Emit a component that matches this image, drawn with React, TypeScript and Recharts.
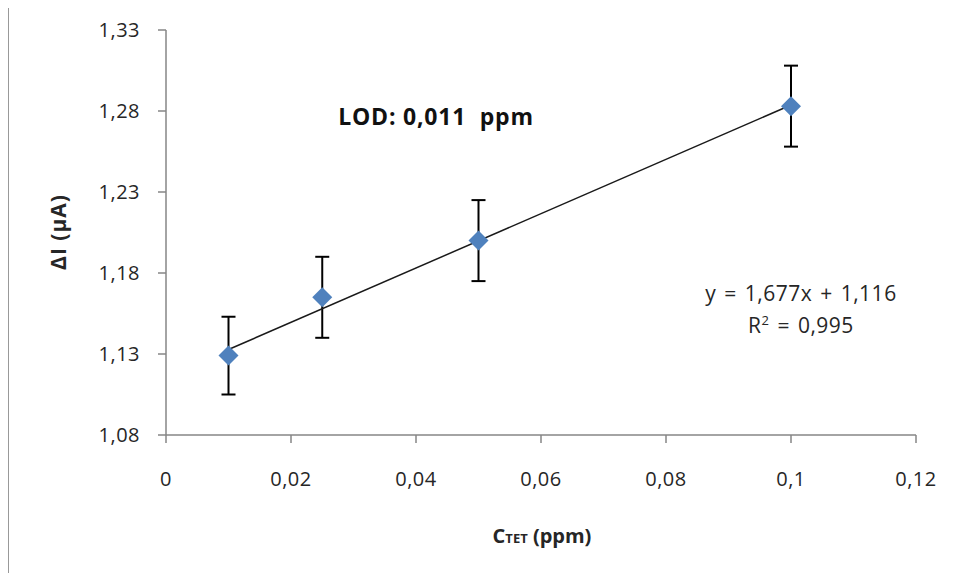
import React from 'react'
import { ComposedChart, Scatter, Line, XAxis, YAxis, ErrorBar } from 'recharts'

// measured points (C_TET in ppm, ΔI in µA) with their standard deviations
const concentrations = [0.01, 0.025, 0.05, 0.1]
const currents = [1.129, 1.165, 1.2, 1.283]
const errors = [0.024, 0.025, 0.025, 0.025]

// linear fit shown on the chart
const slope = 1.677
const intercept = 1.116
const trendRange = [0.01, 0.1]

const xTicks = [0, 0.02, 0.04, 0.06, 0.08, 0.1, 0.12]
const yTicks = [1.08, 1.13, 1.18, 1.23, 1.28, 1.33]

const points = concentrations.map((x, i) => ({ x, y: currents[i], err: errors[i] }))
const trend = trendRange.map(x => ({ x, y: slope * x + intercept }))

const font = '"Open Sans", sans-serif'
const axisColor = '#868686'
const textColor = '#262626'

const fmtX = (v: number) => String(Number(v.toFixed(2))).replace('.', ',')
const fmtY = (v: number) => v.toFixed(2).replace('.', ',')

function Diamond(props: any) {
    const { cx, cy } = props
    if (cx == null || cy == null) return null
    const r = 10
    return (
        <polygon
            points={`${cx},${cy - r} ${cx + r},${cy} ${cx},${cy + r} ${cx - r},${cy}`}
            fill="#4f81bd"
        />
    )
}

export default function App() {
    return (
        <div style={{ position: 'relative', width: 962, height: 581, margin: -8, overflow: 'hidden', background: '#fff', fontFamily: font }}>
            <div style={{ position: 'absolute', left: 7, top: 1, width: 1000, height: 578, boxSizing: 'border-box', border: '2px solid #999' }} />
            <ComposedChart
                width={962}
                height={581}
                margin={{ top: 30, right: 46, left: 106, bottom: 116 }}
                style={{ position: 'absolute', left: 0, top: 0 }}
            >
                <XAxis
                    type="number"
                    dataKey="x"
                    domain={[0, 0.12]}
                    ticks={xTicks}
                    tickFormatter={fmtX}
                    height={30}
                    tickSize={8}
                    tickMargin={29}
                    stroke={axisColor}
                    strokeWidth={1.5}
                    tick={{ fill: textColor, fontSize: 20, fontFamily: font, letterSpacing: 0.5 }}
                    allowDataOverflow
                />
                <YAxis
                    type="number"
                    dataKey="y"
                    domain={[1.08, 1.33]}
                    ticks={yTicks}
                    tickFormatter={fmtY}
                    width={60}
                    tickSize={8}
                    tickMargin={18}
                    stroke={axisColor}
                    strokeWidth={1.5}
                    tick={{ fill: textColor, fontSize: 20, fontFamily: font, letterSpacing: 0.5 }}
                    allowDataOverflow
                />
                <Scatter data={points} dataKey="y" shape={<Diamond />} isAnimationActive={false}>
                    <ErrorBar dataKey="err" direction="y" width={7} stroke="#000" strokeWidth={2} />
                </Scatter>
                <Line
                    data={trend}
                    dataKey="y"
                    stroke="#1a1a1a"
                    strokeWidth={1.5}
                    dot={false}
                    activeDot={false}
                    isAnimationActive={false}
                />
            </ComposedChart>

            <div style={{ position: 'absolute', left: 58, top: 232, transform: 'translate(-50%, -50%) rotate(-90deg)', fontWeight: 'bold', fontSize: 21, letterSpacing: 1, color: textColor, whiteSpace: 'nowrap' }}>
                ΔI (µA)
            </div>
            <div style={{ position: 'absolute', left: 542, top: 535, transform: 'translate(-50%, -50%)', fontWeight: 'bold', fontSize: 20, color: textColor, whiteSpace: 'nowrap' }}>
                C<span style={{ fontSize: 13 }}>TET</span> (ppm)
            </div>
            <div style={{ position: 'absolute', left: 436, top: 116, transform: 'translate(-50%, -50%)', fontWeight: 'bold', fontSize: 23, letterSpacing: 0.8, color: '#111', whiteSpace: 'pre' }}>
                LOD: 0,011  ppm
            </div>
            <div style={{ position: 'absolute', left: 801, top: 309, transform: 'translate(-50%, -50%)', fontSize: 21, letterSpacing: 0.5, wordSpacing: 2, color: textColor, textAlign: 'center', lineHeight: '32px', whiteSpace: 'nowrap' }}>
                <div>y = 1,677x + 1,116</div>
                <div>R<sup style={{ fontSize: 13, lineHeight: 0 }}>2</sup> = 0,995</div>
            </div>
        </div>
    )
}
